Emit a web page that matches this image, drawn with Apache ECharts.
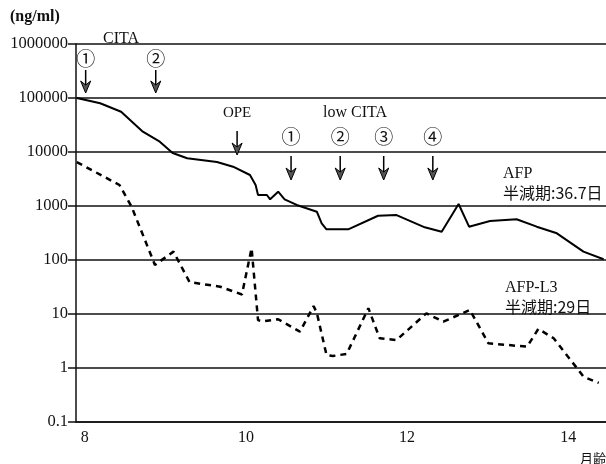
<!DOCTYPE html>
<html>
<head>
<meta charset="utf-8">
<script src="https://cdn.jsdelivr.net/npm/echarts@6/dist/echarts.min.js"></script>
<style>
  html, body { margin: 0; padding: 0; background: #fff; }
  #chart { width: 606px; height: 464px; }
</style>
</head>
<body>
<div id="chart"></div>
<script>
// 月齢 (months) and AFP (ng/ml), solid line
var afpMonths = [7.90, 8.19, 8.45, 8.72, 8.93, 9.09, 9.27, 9.64, 9.84, 10.05, 10.12, 10.15, 10.26, 10.30, 10.40, 10.48, 10.63, 10.88, 10.94, 11.00, 11.27, 11.64, 11.87, 12.22, 12.43, 12.64, 12.77, 13.03, 13.36, 13.61, 13.86, 14.19, 14.44];
var afpValues = [100000, 80000, 55700, 23800, 15500, 9570, 7640, 6530, 5340, 3750, 2450, 1600, 1600, 1330, 1840, 1330, 1045, 783, 479, 370, 370, 660, 680, 403, 334, 1090, 414, 527, 567, 414, 312, 143, 103];

// AFP-L3, dashed line
var l3Months = [7.90, 8.43, 8.58, 8.87, 9.10, 9.30, 9.68, 9.95, 10.07, 10.15, 10.21, 10.40, 10.67, 10.84, 10.88, 11.00, 11.08, 11.25, 11.52, 11.66, 11.87, 12.24, 12.45, 12.78, 13.01, 13.49, 13.63, 13.82, 14.11, 14.19, 14.38];
var l3Values = [6500, 2450, 970, 81, 143, 39, 32, 23, 165, 7.7, 7.3, 8.0, 4.7, 14, 10.5, 1.74, 1.67, 1.82, 12.8, 3.55, 3.3, 10.3, 7.2, 11.9, 2.87, 2.48, 5.3, 3.55, 0.99, 0.69, 0.53];

// treatment timings (months)
var citaMonths = [8.01, 8.88];
var opeMonth = 9.89;
var lowCitaMonths = [10.56, 11.17, 11.71, 12.32];
var circled = ["①", "②", "③", "④"];

var xLabels = [8, 10, 12, 14];

var serif = "'Liberation Serif', 'DejaVu Serif', serif";
var jp = "'Noto Sans CJK JP', sans-serif";

function pairs(xs, ys) {
  var out = [];
  for (var i = 0; i < xs.length; i++) out.push([xs[i], ys[i]]);
  return out;
}

var myChart = echarts.init(document.getElementById("chart"));
myChart.setOption({
  animation: false,
  grid: { left: 76, right: 0, top: 44, bottom: 42 },
  xAxis: {
    type: "value",
    min: 7.89,
    max: 14.47,
    axisLine: { show: true, lineStyle: { color: "#111", width: 1.5 } },
    axisTick: { show: false },
    splitLine: { show: false },
    axisLabel: {
      customValues: xLabels,
      color: "#111",
      fontFamily: serif,
      fontSize: 16,
      margin: 8
    }
  },
  yAxis: {
    type: "log",
    logBase: 10,
    min: 0.1,
    max: 1000000,
    axisLine: { show: true, lineStyle: { color: "#111", width: 1.5 } },
    axisTick: { show: true, length: 8, lineStyle: { color: "#111", width: 1.5 } },
    splitLine: { show: true, lineStyle: { color: "#111", width: 1.5 } },
    minorTick: { show: false },
    axisLabel: {
      color: "#111",
      fontFamily: serif,
      fontSize: 16.5,
      margin: 8,
      formatter: function (v) {
        return v < 1 ? v.toFixed(1) : String(Math.round(v));
      }
    }
  },
  series: [
    {
      name: "AFP",
      type: "line",
      data: pairs(afpMonths, afpValues),
      symbol: "none",
      lineStyle: { color: "#000", width: 2 }
    },
    {
      name: "AFP-L3",
      type: "line",
      data: pairs(l3Months, l3Values),
      symbol: "none",
      lineStyle: { color: "#000", width: 2.5, type: [6, 5] }
    }
  ]
});

// annotations
function arrow(x, y1, y2) {
  return [
    { type: "line", shape: { x1: x, y1: y1, x2: x, y2: y2 - 4 }, style: { stroke: "#000", lineWidth: 1.5 } },
    {
      type: "polygon",
      shape: { points: [[x - 5, y2 - 12], [x, y2 - 8], [x + 5, y2 - 12], [x, y2]] },
      style: { fill: "#555", stroke: "#000", lineWidth: 1 }
    }
  ];
}
function txt(x, y, s, font, size, align, weight) {
  return {
    type: "text", x: x, y: y,
    style: {
      text: s, fill: "#111", fontFamily: font, fontSize: size,
      fontWeight: weight || "normal", align: align || "left", verticalAlign: "middle"
    }
  };
}
function px(m) {
  return myChart.convertToPixel({ xAxisIndex: 0 }, m);
}

var g = [];
g.push(txt(10, 17, "(ng/ml)", serif, 16, "left", "bold"));
g.push(txt(103, 39, "CITA", serif, 16));
citaMonths.forEach(function (m, i) {
  var x = px(m);
  g.push(txt(x, 59, circled[i], jp, 19, "center"));
  g = g.concat(arrow(x, 70, 93));
});
var ox = px(opeMonth);
g.push(txt(ox, 113, "OPE", serif, 15, "center"));
g = g.concat(arrow(ox, 131, 155));
g.push(txt(323, 113, "low CITA", serif, 16));
lowCitaMonths.forEach(function (m, i) {
  var x = px(m);
  g.push(txt(x, 137, circled[i], jp, 19, "center"));
  g = g.concat(arrow(x, 156, 180));
});
g.push(txt(503, 174, "AFP", serif, 16));
g.push(txt(503, 193, "半減期:36.7日", jp, 16));
g.push(txt(505, 288, "AFP-L3", serif, 16));
g.push(txt(505, 307, "半減期:29日", jp, 16));
g.push(txt(606, 458, "月齢", jp, 13, "right"));

myChart.setOption({ graphic: g });
</script>
</body>
</html>
